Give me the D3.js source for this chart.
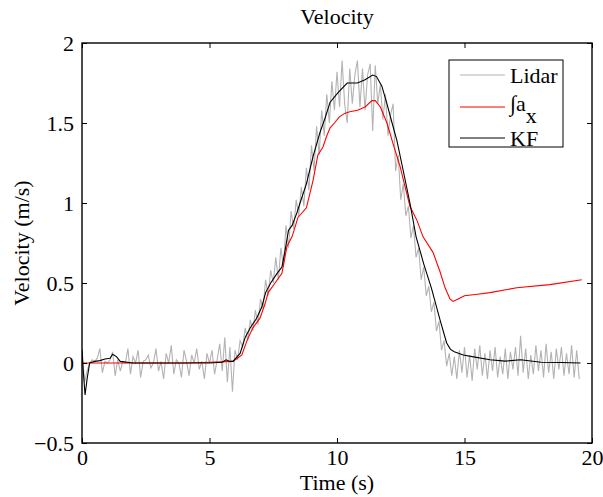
<!DOCTYPE html>
<html><head><meta charset="utf-8">
<script src="https://cdn.jsdelivr.net/npm/d3@7"></script>
<style>body{margin:0;background:#fff}svg{display:block}</style>
</head><body><svg id="c" width="603" height="497"></svg>
<script>
// ---- data ----
const xTicks = [0, 5, 10, 15, 20];
const yTicks = [-0.5, 0, 0.5, 1, 1.5, 2];
const yTickLabels = ["\u22120.5", "0", "0.5", "1", "1.5", "2"];
const seriesNames = ["Lidar", "\u222Ba", "KF"];

// Lidar samples, every 0.1 s starting at t = 0
const lidarStart = 0, lidarStep = 0.1;
const lidarV = [
 0.09,-0.12,-0.05,0.0,0.02,0.01,0.03,0.09,-0.06,0.01,
 0.0,0.02,0.07,-0.08,0.02,-0.05,0.01,0.0,0.09,-0.07,
 0.04,0.0,0.08,-0.09,0.01,0.02,0.05,-0.03,0.0,0.09,
 -0.05,0.01,-0.1,0.06,0.0,0.11,-0.07,0.02,0.0,-0.09,
 0.08,0.01,-0.08,0.05,0.0,0.09,-0.04,0.01,-0.1,0.06,
 0.0,0.08,-0.07,0.02,0.12,-0.05,0.16,-0.12,0.1,-0.18,
 0.08,0.02,0.14,0.1,0.22,0.14,0.27,0.2,0.33,0.24,
 0.4,0.34,0.52,0.42,0.58,0.5,0.66,0.52,0.72,0.6,
 0.86,0.72,0.95,0.84,1.02,0.92,1.1,0.98,1.22,1.08,
 1.36,1.2,1.48,1.3,1.58,1.42,1.68,1.5,1.76,1.58,
 1.82,1.6,1.89,1.62,1.5,1.84,1.62,1.8,1.89,1.6,
 1.84,1.58,1.8,1.87,1.45,1.86,1.62,1.74,1.52,1.68,
 1.42,1.55,1.62,1.2,1.3,1.02,1.12,0.92,0.98,0.78,
 0.86,0.66,0.72,0.52,0.6,0.42,0.48,0.32,0.38,0.2,
 0.26,0.08,0.14,-0.02,0.06,-0.08,0.04,-0.1,0.08,-0.06,
 0.1,-0.09,0.05,-0.11,0.09,-0.04,0.11,-0.08,0.06,-0.1,
 0.08,-0.05,0.1,-0.09,0.04,-0.07,0.09,-0.1,0.07,-0.04,
 0.1,-0.08,0.17,-0.06,0.09,-0.1,0.05,-0.07,0.11,-0.05,
 0.08,-0.09,0.12,-0.06,0.07,-0.1,0.09,-0.04,0.1,-0.08,
 0.06,-0.07,0.11,-0.09,0.08,-0.1
];

// Integrated acceleration (red)
const accT = [0,1,2,3,4,5,5.92,6.27,6.47,6.7,6.98,7.18,7.3,7.57,7.84,8.04,8.24,8.47,8.8,9.06,9.25,9.45,9.6,9.73,9.9,10.1,10.3,10.5,10.8,11.1,11.37,11.5,11.7,11.96,12.2,12.47,12.86,13.14,13.37,13.77,14.04,14.24,14.43,14.55,14.75,15.0,15.5,16.0,17.05,18.35,19.6];
const accV = [0,0,0,0,0,0.005,0.01,0.05,0.14,0.22,0.28,0.37,0.44,0.5,0.56,0.73,0.79,0.91,0.97,1.14,1.3,1.35,1.42,1.47,1.5,1.54,1.56,1.57,1.58,1.6,1.64,1.64,1.6,1.5,1.37,1.23,0.98,0.89,0.79,0.69,0.57,0.47,0.4,0.385,0.4,0.42,0.43,0.44,0.47,0.49,0.52];

// Kalman filter estimate (black)
const kfT = [0,0.05,0.12,0.2,0.3,0.5,0.7,0.9,1.1,1.2,1.35,1.5,2,3,4,5,5.5,5.65,5.8,5.92,6.2,6.4,6.6,6.85,7.05,7.2,7.4,7.65,7.84,7.96,8.1,8.24,8.43,8.55,8.8,9.06,9.33,9.53,9.73,10.04,10.4,10.8,11.1,11.4,11.55,11.76,11.96,12.16,12.35,12.6,12.86,13.1,13.4,13.7,14.04,14.3,14.45,14.6,14.95,15.3,16.0,16.6,17.2,18.0,18.8,19.55];
const kfV = [0.08,-0.05,-0.2,-0.1,0.0,0.01,0.015,0.025,0.03,0.055,0.04,0.01,0.0,0.0,0.0,0.0,0.005,0.02,0.01,0.01,0.06,0.16,0.22,0.28,0.35,0.44,0.5,0.56,0.6,0.7,0.83,0.86,0.94,1.0,1.12,1.29,1.44,1.53,1.63,1.69,1.75,1.75,1.77,1.8,1.79,1.73,1.62,1.5,1.39,1.2,1.0,0.79,0.62,0.47,0.27,0.125,0.085,0.07,0.05,0.04,0.02,0.012,0.02,0.005,0.003,0.0];

// ---- chart ----
const m = {l: 82, r: 592, t: 43, b: 443};
const svg = d3.select("#c");
const x = d3.scaleLinear().domain([0, 20]).range([m.l, m.r]);
const y = d3.scaleLinear().domain([-0.5, 2]).range([m.b, m.t]);
const FS = 22;
const FF = "'Liberation Serif', 'Times New Roman', serif";

svg.append("defs").append("clipPath").attr("id", "clip")
  .append("rect").attr("x", m.l).attr("y", m.t).attr("width", m.r - m.l).attr("height", m.b - m.t);

const line = d3.line().x(d => x(d[0])).y(d => y(d[1]));
const lidar = lidarV.map((v, i) => [lidarStart + i * lidarStep, v]);
const acc = accT.map((t, i) => [t, accV[i]]);
const kf = kfT.map((t, i) => [t, kfV[i]]);

const g = svg.append("g").attr("clip-path", "url(#clip)");
g.append("path").datum(lidar).attr("d", line).attr("fill", "none").attr("stroke", "#b3b3b3").attr("stroke-width", 1.1);
g.append("path").datum(acc).attr("d", line).attr("fill", "none").attr("stroke", "#ff0000").attr("stroke-width", 1.1);
g.append("path").datum(kf).attr("d", line).attr("fill", "none").attr("stroke", "#000").attr("stroke-width", 1.1);

// axes (ticks inward, all four sides)
const tl = 5;
const axB = d3.axisBottom(x).tickValues(xTicks).tickSizeInner(-tl).tickSizeOuter(0).tickPadding(6).tickFormat(d3.format("d"));
const axT = d3.axisTop(x).tickValues(xTicks).tickSizeInner(-tl).tickSizeOuter(0).tickFormat("");
const axL = d3.axisLeft(y).tickValues(yTicks).tickSizeInner(-tl).tickSizeOuter(0).tickPadding(8).tickFormat((d, i) => yTickLabels[i]);
const axR = d3.axisRight(y).tickValues(yTicks).tickSizeInner(-tl).tickSizeOuter(0).tickFormat("");
function style(sel) {
  sel.select(".domain").remove();
  sel.selectAll(".tick line").attr("stroke", "#000").attr("stroke-width", 1);
  sel.selectAll("text").attr("font-size", FS).style("font-family", FF).attr("fill", "#000");
}
svg.append("g").attr("transform", `translate(0,${m.b})`).call(axB).call(style);
svg.append("g").attr("transform", `translate(0,${m.t})`).call(axT).call(style);
svg.append("g").attr("transform", `translate(${m.l},0)`).call(axL).call(style);
svg.append("g").attr("transform", `translate(${m.r},0)`).call(axR).call(style);
svg.append("rect").attr("x", m.l).attr("y", m.t).attr("width", m.r - m.l).attr("height", m.b - m.t)
  .attr("fill", "none").attr("stroke", "#000").attr("stroke-width", 1.4);

// titles
function txt(xp, yp, s) {
  return svg.append("text").attr("x", xp).attr("y", yp).attr("text-anchor", "middle")
    .attr("font-size", FS).style("font-family", FF).attr("fill", "#000").text(s);
}
txt((m.l + m.r) / 2, 24, "Velocity");
txt((m.l + m.r) / 2, 490, "Time (s)");
svg.append("text").attr("transform", `translate(29,${(m.t + m.b) / 2}) rotate(-90)`).attr("text-anchor", "middle")
  .attr("font-size", FS).style("font-family", FF).text("Velocity (m/s)");

// legend
const lg = svg.append("g");
lg.append("rect").attr("x", 449).attr("y", 60).attr("width", 114).attr("height", 87).attr("fill", "#fff").attr("stroke", "#000").attr("stroke-width", 1);
const legY = [75, 107, 138];
const legC = ["#b3b3b3", "#ff0000", "#000"];
legY.forEach((ly, i) => {
  lg.append("line").attr("x1", 460).attr("x2", 505).attr("y1", ly).attr("y2", ly).attr("stroke", legC[i]).attr("stroke-width", 1.1);
});
lg.append("text").attr("x", 510).attr("y", 83).attr("font-size", FS).style("font-family", FF).text(seriesNames[0]);
const t2 = lg.append("text").attr("x", 510).attr("y", 111).attr("font-size", FS).style("font-family", FF);
t2.append("tspan").text(seriesNames[1]);
t2.append("tspan").attr("dy", 12).text("x");
lg.append("text").attr("x", 510).attr("y", 146).attr("font-size", FS).style("font-family", FF).text(seriesNames[2]);
</script></body></html>
